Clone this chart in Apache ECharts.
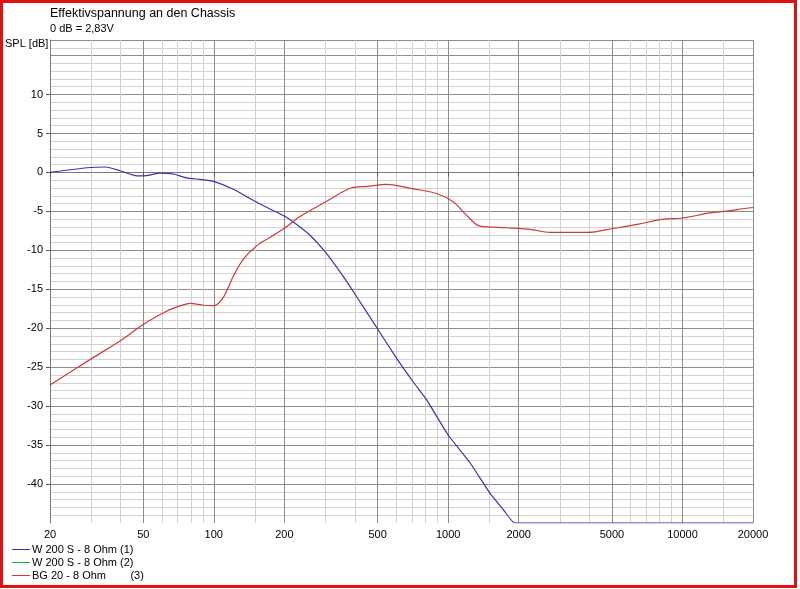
<!DOCTYPE html>
<html>
<head>
<meta charset="utf-8">
<script src="https://cdn.jsdelivr.net/npm/echarts@6/dist/echarts.min.js"></script>
<style>
  html, body { margin: 0; padding: 0; background: #fff; }
  #main { width: 800px; height: 589px; }
</style>
</head>
<body>
<div id="main"></div>
<script>
// Frequenzen (Hz) und Pegel (dB)
var freqW200 = [20, 28.7, 34.6, 39.6, 46.9, 51.7, 58.9, 67.1, 76.6, 87.3, 99.6, 121.7, 147.6, 173.7, 200, 218.6, 258, 299, 350, 400, 498, 604, 710, 810, 1000, 1242, 1510, 1722, 1926, 20000];
var splW200  = [0, 0.6, 0.7, 0.25, -0.43, -0.4, -0.1, -0.2, -0.7, -0.9, -1.15, -2.2, -3.6, -4.7, -5.6, -6.37, -8.1, -10.2, -13.0, -15.6, -20.0, -23.9, -26.9, -29.2, -33.7, -37.3, -41.2, -43.3, -45, -45];

var freqBG20 = [20, 30.1, 40.4, 50.7, 61, 70.6, 79.2, 90.2, 100, 110, 121.7, 134, 152.6, 179, 208, 232, 299, 388, 450, 546, 710, 892, 1054, 1198, 1364, 1778, 2238, 2720, 3960, 5060, 6580, 8280, 10000, 13100, 15400, 18700, 20000];
var splBG20  = [-27.3, -23.9, -21.5, -19.4, -18.0, -17.2, -16.8, -17.05, -17.1, -16.0, -13.2, -11.1, -9.4, -8.1, -6.8, -5.7, -3.8, -1.97, -1.8, -1.54, -2.1, -2.7, -3.8, -5.5, -6.9, -7.1, -7.3, -7.7, -7.7, -7.2, -6.6, -6.0, -5.85, -5.2, -4.96, -4.6, -4.5];

var seriesNames = ['W 200 S - 8 Ohm (1)', 'W 200 S - 8 Ohm (2)', 'BG 20 - 8 Ohm        (3)'];
var seriesColors = ['#3535b0', '#20b020', '#d03838'];

// Achsenbeschriftung
var xLabelFreqs = [20, 50, 100, 200, 500, 1000, 2000, 5000, 10000, 20000];
var xMinorFreqs = [30, 40, 60, 70, 80, 90, 150, 300, 400, 600, 700, 800, 900, 1500, 3000, 4000, 6000, 7000, 8000, 9000, 15000];
var yLabels = [-40, -35, -30, -25, -20, -15, -10, -5, 0, 5, 10];
var yExtraMajor = [15, 17];
var yMin = -45, yMax = 17;

var font = 'Liberation Sans';

function lg(f) { return Math.log10(f); }
function pairs(fs, vs) {
    return fs.map(function (f, i) { return [lg(f), vs[i]]; });
}
var yMinor = [];
for (var v = yMin + 1; v < yMax; v++) {
    if (v % 5 !== 0) yMinor.push(v);
}

var myChart = echarts.init(document.getElementById('main'));

var option = {
    backgroundColor: '#ffffff',
    animation: false,
    color: seriesColors,
    title: [
        {
            text: 'Effektivspannung an den Chassis',
            left: 50, top: 7, padding: 0,
            textStyle: { fontSize: 12.5, fontWeight: 'normal', color: '#000', fontFamily: font }
        },
        {
            text: '0 dB = 2,83V',
            left: 50, top: 23, padding: 0,
            textStyle: { fontSize: 11, fontWeight: 'normal', color: '#000', fontFamily: font }
        },
        {
            text: 'SPL [dB]',
            left: 5, top: 38, padding: 0,
            textStyle: { fontSize: 11, fontWeight: 'normal', color: '#000', fontFamily: font }
        }
    ],
    graphic: [{
        type: 'rect',
        shape: { x: 1.5, y: 1.5, width: 794, height: 585 },
        style: { fill: 'none', stroke: '#e01010', lineWidth: 3 },
        silent: true
    }],
    legend: {
        orient: 'vertical',
        left: 12, top: 543,
        icon: 'rect',
        itemWidth: 18, itemHeight: 1, itemGap: 0,
        padding: 0,
        selectedMode: false,
        data: seriesNames.map(function (n, i) {
            return { name: n, itemStyle: { color: seriesColors[i] } };
        }),
        textStyle: { fontSize: 11, lineHeight: 13, color: '#000', fontFamily: font, padding: [0, 0, 0, -3] }
    },
    grid: { left: 50, right: 47, top: 40, bottom: 66 },
    xAxis: [
        {   // feine Linien
            type: 'value', min: lg(20), max: lg(20000), position: 'bottom',
            axisLine: { show: false }, axisLabel: { show: false },
            axisTick: { show: false, customValues: xMinorFreqs.map(lg) },
            splitLine: { show: true, lineStyle: { color: '#d2d2d2', width: 1 } }
        },
        {
            type: 'value', min: lg(20), max: lg(20000), position: 'bottom', offset: 0,
            axisLine: { show: true, lineStyle: { color: '#7a7a7a' } },
            axisTick: { show: true, length: 4, lineStyle: { color: '#555' }, customValues: xLabelFreqs.map(lg) },
            axisLabel: {
                customValues: xLabelFreqs.map(lg),
                margin: 6, fontSize: 11, color: '#000', fontFamily: font,
                formatter: function (val) { return String(Math.round(Math.pow(10, val))); }
            },
            splitLine: { show: true, lineStyle: { color: '#8c8c8c', width: 1 } }
        }
    ],
    yAxis: [
        {   // feine Linien
            type: 'value', min: yMin, max: yMax, position: 'left',
            axisLine: { show: false }, axisLabel: { show: false },
            axisTick: { show: false, customValues: yMinor },
            splitLine: { show: true, lineStyle: { color: '#d2d2d2', width: 1 } }
        },
        {   // 15 dB und oberer Rand, ohne Beschriftung
            type: 'value', min: yMin, max: yMax, position: 'left',
            axisLine: { show: false }, axisLabel: { show: false },
            axisTick: { show: false, customValues: yExtraMajor },
            splitLine: { show: true, lineStyle: { color: '#8c8c8c', width: 1 } }
        },
        {
            type: 'value', min: yMin, max: yMax, position: 'left', offset: 0,
            axisLine: { show: true, lineStyle: { color: '#7a7a7a' } },
            axisTick: { show: true, length: 4, lineStyle: { color: '#555' }, customValues: yLabels },
            axisLabel: {
                customValues: yLabels,
                margin: 7, fontSize: 11, color: '#000', fontFamily: font
            },
            splitLine: { show: true, lineStyle: { color: '#8c8c8c', width: 1 } }
        }
    ],
    series: [
        {
            name: seriesNames[0], type: 'line', xAxisIndex: 1, yAxisIndex: 2,
            symbol: 'none', smooth: 0.15,
            lineStyle: { color: seriesColors[0], width: 1.2 }, itemStyle: { color: seriesColors[0] },
            data: pairs(freqW200, splW200)
        },
        {
            name: seriesNames[1], type: 'line', xAxisIndex: 1, yAxisIndex: 2,
            symbol: 'none',
            lineStyle: { color: seriesColors[1], width: 1.2 }, itemStyle: { color: seriesColors[1] },
            data: []
        },
        {
            name: seriesNames[2], type: 'line', xAxisIndex: 1, yAxisIndex: 2,
            symbol: 'none', smooth: 0.3,
            lineStyle: { color: seriesColors[2], width: 1.2 }, itemStyle: { color: seriesColors[2] },
            data: pairs(freqBG20, splBG20)
        }
    ]
};

myChart.setOption(option);
</script>
</body>
</html>
